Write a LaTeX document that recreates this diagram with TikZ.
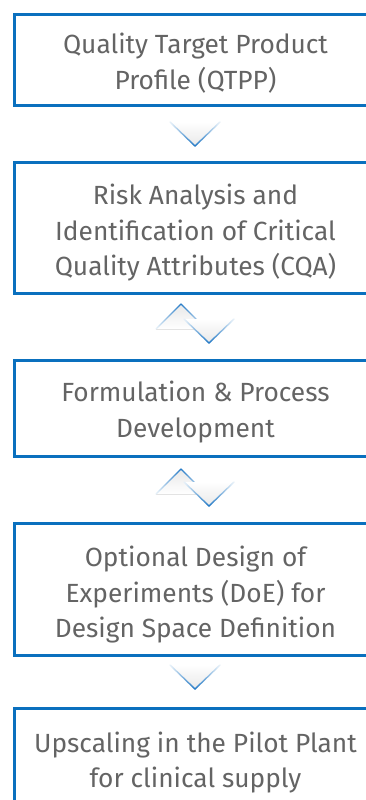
\documentclass[tikz,border=0pt]{standalone}
\usepackage{fontspec}
\setmainfont{Fira Sans}
\definecolor{boxblue}{RGB}{10,112,190}
\definecolor{chevblue}{RGB}{40,125,200}
\definecolor{txtgray}{RGB}{100,100,100}
\tikzset{
  stepbox/.style={draw=boxblue, line width=3pt, rectangle, minimum width=362pt, inner sep=0pt},
  steptext/.style={text=txtgray, align=center, font=\fontsize{26.3pt}{35.5pt}\selectfont, inner sep=0pt},
  chevseg/.style={line width=1.4pt, line cap=round},
  % arm from apex (0,0) towards (#1 * 25, #2)
  chevarm/.pic={
    \foreach \i in {0,...,19}{
      \pgfmathsetmacro{\ta}{\i/20}
      \pgfmathsetmacro{\tb}{(\i+1)/20}
      \pgfmathsetmacro{\pc}{100-4.6*\i}
      \draw[chevseg, draw=chevblue!\pc!white] (\ta*\armx,\ta*\army) -- (\tb*\armx,\tb*\army);
    }
  },
  downchev/.pic={
    \fill[top color=white, bottom color=black!9] (-25,-24) -- (0,0) -- (25,-24) -- cycle;
    \def\armx{-25}\def\army{-24}
    \pic {chevarm};
    \def\armx{25}\def\army{-24}
    \pic {chevarm};
  },
  upchev/.pic={
    \fill[top color=black!9, bottom color=white] (-25,25) -- (0,0) -- (25,25) -- cycle;
    \def\armx{-25}\def\army{25}
    \pic {chevarm};
    \def\armx{25}\def\army{25}
    \pic {chevarm};
  }
}
\begin{document}
\begin{tikzpicture}[x=1pt,y=-1pt]
\useasboundingbox (0,0) rectangle (366,800);
\fill[white] (0,0) rectangle (366,800);
% boxes
\node[stepbox, minimum height=91pt] (b1) at (195.5,60.2) {};
\node[stepbox, minimum height=130.5pt] (b2) at (195.5,227.8) {};
\node[stepbox, minimum height=96pt] (b3) at (195.5,408) {};
\node[stepbox, minimum height=132pt] (b4) at (195.5,589) {};
\node[stepbox, minimum height=108pt] (b5) at (195.5,762) {};
% texts
\node[steptext] (t1) at (195.5,63) {Quality Target Product\\Profile (QTPP)};
\node[steptext] (t2) at (195.5,233) {Risk Analysis and\\Identification of Critical\\Quality Attributes (CQA)};
\node[steptext] (t3) at (195.5,412) {Formulation \& Process\\Development};
\node[steptext] (t4) at (195.5,595) {Optional Design of\\Experiments (DoE) for\\Design Space Definition};
\node[steptext] (t5) at (195.5,762.5) {Upscaling in the Pilot Plant\\for clinical supply};
% chevrons
\coordinate (c1) at (195,146);
\coordinate (c2u) at (181,304);
\coordinate (c2d) at (209,343);
\coordinate (c3u) at (181,469);
\coordinate (c3d) at (209,506);
\coordinate (c4) at (195,689);
\pic at (c1) {downchev};
\pic at (c2u) {upchev};
\pic at (c2d) {downchev};
\pic at (c3u) {upchev};
\pic at (c3d) {downchev};
\pic at (c4) {downchev};
\end{tikzpicture}
\end{document}
